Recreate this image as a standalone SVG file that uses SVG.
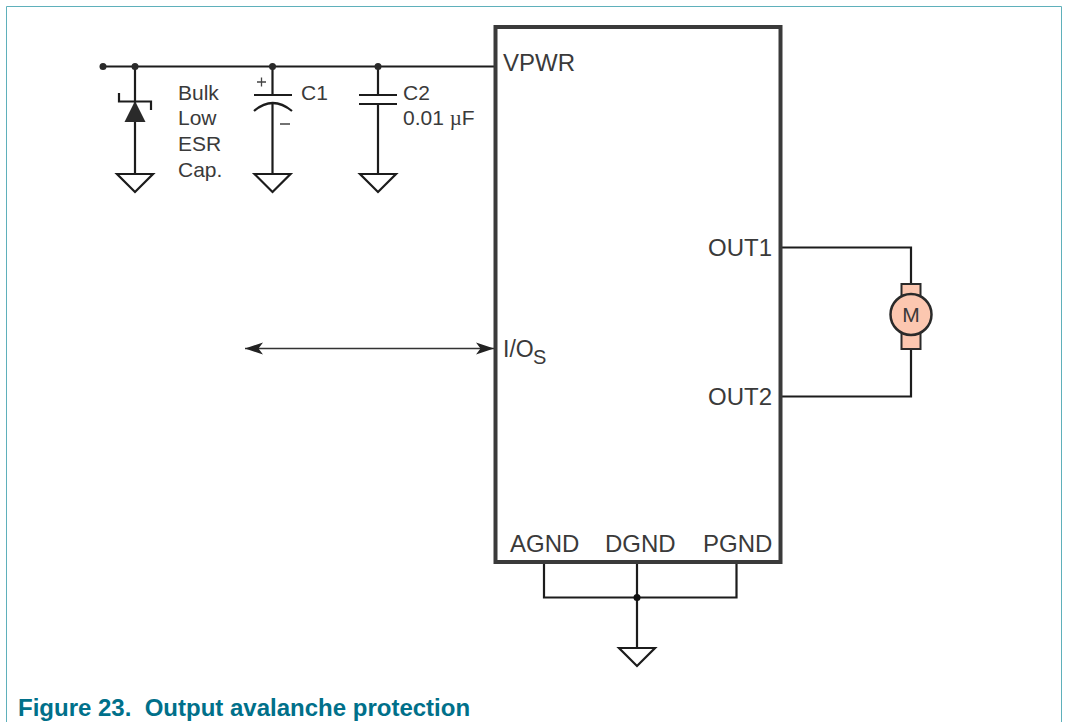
<svg xmlns="http://www.w3.org/2000/svg" width="1065" height="722" viewBox="0 0 1065 722">
<style>
.w{fill:none;stroke:#1c1c1c;stroke-width:2.200}
.g{fill:#fff;stroke:#1c1c1c;stroke-width:2.200}
.d{fill:#2a2a2a;stroke:none}
text{font-family:"Liberation Sans",Arial,sans-serif;fill:#3a3a3a;font-size:24px}
.s{font-size:21px}
.n{font-size:21px}
</style>
<defs>
<marker id="ah" markerUnits="userSpaceOnUse" markerWidth="20" markerHeight="14" refX="18" refY="7" orient="auto-start-reverse"><path d="M0 1L18 7L0 13L4.500 7Z" fill="#222"/></marker>
<path id="gnd" d="M-18 0H18L0 18Z" class="g"/>
</defs>
<rect width="1065" height="722" fill="#fff"/>
<path d="M6.500 722V6.500H1061.500V722" fill="none" stroke="#5fb0bb" stroke-width="1"/>
<g id="connectors">
<path class="w" d="M103 66.500H495"/>
<path class="w" d="M135 66V174M272.500 66V95M272.500 103V174M378 66V95M378 104V174"/>
<path class="w" d="M781 247.500H911V284M911 349V396.500H781"/>
<path class="w" d="M544 563V597.500H736.500V563M637 563V648"/>
<path d="M245 348.500H494" fill="none" stroke="#333" stroke-width="1.500" marker-start="url(#ah)" marker-end="url(#ah)"/>
<circle class="d" cx="103" cy="66.500" r="3.500"/><circle class="d" cx="135" cy="66.500" r="3.500"/><circle class="d" cx="272.500" cy="66.500" r="3.500"/><circle class="d" cx="378" cy="66.500" r="3.500"/><circle cx="637" cy="597.500" r="3.500" fill="#111"/>
</g>
<g id="ic"><rect x="495.500" y="27" width="285" height="535" fill="none" stroke="#3a3a3a" stroke-width="4"/>
<text x="503" y="71">VPWR</text><text x="708" y="255.500">OUT1</text><text x="708" y="405">OUT2</text>
<text x="503" y="357" style="font-size:23px">I/O</text><text x="533" y="364" style="font-size:20px">S</text>
<text x="510" y="552">AGND</text><text x="605" y="552">DGND</text><text x="703" y="552">PGND</text></g>
<g id="diode"><path class="w" d="M119 93V101.500H151V110"/><path class="d" d="M135 101L145.500 122H124.500Z"/><use href="#gnd" x="135" y="174"/>
<text x="178" y="99.500" class="s">Bulk</text><text x="178" y="125" class="s">Low</text><text x="178" y="151" class="s">ESR</text><text x="178" y="176.500" class="s">Cap.</text></g>
<g id="c1"><path class="w" d="M254 95H292M254 111Q272.500 95 292 111"/><use href="#gnd" x="272.500" y="174"/>
<path d="M257 82H266M261.500 77.500V86.500M280 124H290" stroke="#444" stroke-width="1.300" fill="none"/><text x="301" y="99.500" class="n">C1</text></g>
<g id="c2"><path class="w" d="M359 95H397M359 104H397"/><use href="#gnd" x="378" y="174"/>
<text x="403" y="99.500" class="n">C2</text><text x="403" y="125" class="s">0.01 <tspan font-family="Liberation Serif">µ</tspan>F</text></g>
<g id="motor"><rect x="901.500" y="284" width="19" height="65" fill="#fcc7b0" stroke="#2a2a2a" stroke-width="2"/><circle cx="911" cy="314.500" r="20.500" fill="#fcc7b0" stroke="#2a2a2a" stroke-width="2.500"/><text x="911" y="322" text-anchor="middle" style="font-size:21px">M</text></g>
<g id="ground"><use href="#gnd" x="637" y="648"/></g>
<text x="18" y="716" xml:space="preserve" style="font-size:24px;font-weight:bold;fill:#00708a">Figure 23.  Output avalanche protection</text>
</svg>
